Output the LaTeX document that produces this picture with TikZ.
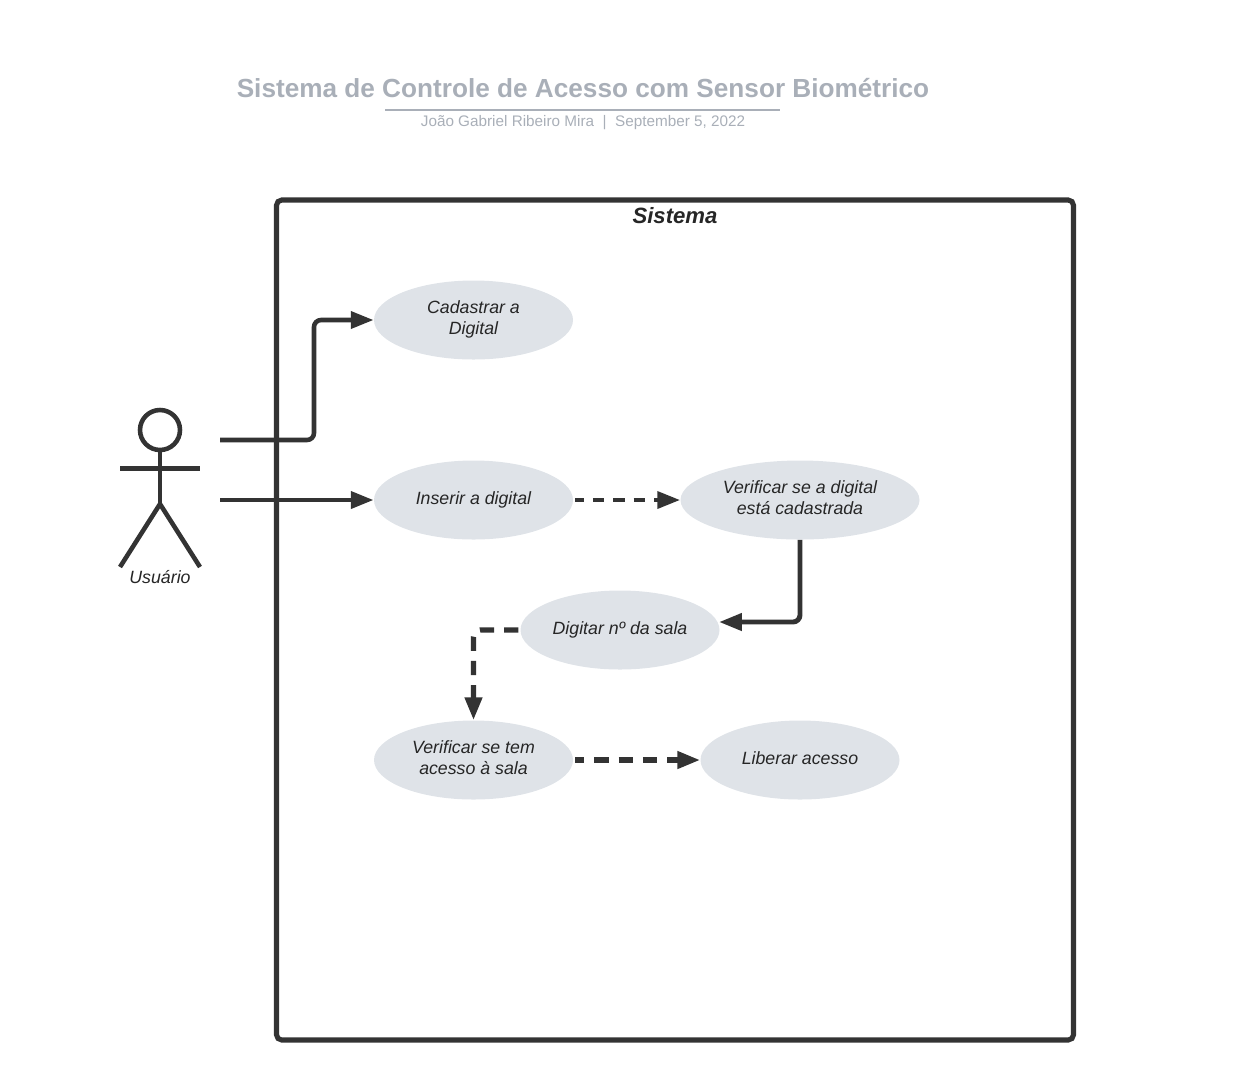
\documentclass[tikz,border=0pt]{standalone}
\usepackage{fontspec}
\setmainfont{Liberation Sans}
\usetikzlibrary{positioning,shapes.geometric,arrows.meta}
\definecolor{linecol}{HTML}{333333}
\definecolor{usecol}{HTML}{DFE3E8}
\definecolor{titlecol}{HTML}{A9AFB8}
\tikzset{
  usecase/.style={ellipse,fill=usecol,inner sep=0pt,minimum height=79*0.02cm,text height=7.6pt,text depth=3pt,align=center,font=\fontsize{10.1}{12}\selectfont\itshape,text=black!85},
  usecasetwo/.style={usecase,text height=19.6pt},
  flow/.style={draw=linecol,line width=2.6pt,rounded corners=4pt,-{Triangle[length=13pt,width=9.5pt]}},
  flowdash/.style={flow,line width=2.5pt,dash pattern=on 6.6pt off 5pt,dash phase=1.5pt,shorten <=1pt},
  flowdashb/.style={flow,line width=3pt,dash pattern=on 8.1pt off 5.7pt,shorten <=1pt},
  limb/.style={draw=linecol,line width=2.6pt}
}
\begin{document}
\begin{tikzpicture}[x=0.02cm,y=-0.02cm]
\useasboundingbox (0,0) rectangle (1260,1080);
\node[inner sep=0pt,text=titlecol,font=\fontsize{14.9}{18}\selectfont\bfseries] (title) at (583,88.5) {Sistema de Controle de Acesso com Sensor Biométrico};
\coordinate (ruleL) at (385,110);
\coordinate (ruleR) at (780,110);
\draw[titlecol,line width=1.1pt] (ruleL)--(ruleR);
\node[inner sep=0pt,text=titlecol,font=\fontsize{8.7}{11}\selectfont] (subtitle) at (583,123) {João Gabriel Ribeiro Mira \ | \ September 5, 2022};

\node[draw=linecol,line width=2.9pt,rounded corners=3pt,minimum width=797*0.02cm,minimum height=840*0.02cm,inner sep=0pt] (system) at (675,620) {};
\node[inner sep=0pt,text=black!85,font=\fontsize{12.6}{14}\selectfont\bfseries\itshape] (systemlabel) at (675,216) {Sistema};

% actor
\node[circle,draw=linecol,line width=2.6pt,fill=white,minimum size=40*0.02cm,inner sep=0pt] (head) at (160,430) {};
\coordinate (hip) at (160,504);
\coordinate (armL) at (120,468.5);
\coordinate (armR) at (200,468.5);
\coordinate (footL) at (120,567);
\coordinate (footR) at (200,567);
\draw[limb] (head)--(hip);
\draw[limb] (armL)--(armR);
\draw[limb] (footL)--(hip)--(footR);
\node[inner sep=0pt,text=black!85,font=\fontsize{10.1}{12}\selectfont\itshape] (actor) at (160,577) {Usuário};

% use cases
\node[usecasetwo,minimum width=199*0.02cm] (cadastrar) at (473.5,320) {Cadastrar a\\Digital};
\node[usecase,minimum width=199*0.02cm] (inserir) at (473.5,500) {Inserir a digital};
\node[usecasetwo,minimum width=239*0.02cm] (verificar) at (800,500) {Verificar se a digital\\está cadastrada};
\node[usecase,minimum width=199*0.02cm] (digitar) at (620,630) {Digitar nº da sala};
\node[usecasetwo,minimum width=199*0.02cm] (sala) at (473.5,760) {Verificar se tem\\acesso à sala};
\node[usecase,minimum width=199*0.02cm] (liberar) at (800,760) {Liberar acesso};

% connectors
\coordinate (startA) at (220,440);
\coordinate (startB) at (220,500);
\coordinate (bendA) at (314,440);
\coordinate (bendB) at (314,320);
\coordinate (bendC) at (800,622);
\coordinate (bendD) at (473.5,630);
\coordinate (endC) at (719,622);
\draw[flow] (startA)--(bendA)--(bendB)--(cadastrar.west);
\draw[flow,line width=2.7pt] (startB)--(inserir.west);
\draw[flowdash] (inserir.east)--(verificar.west);
\draw[flow,line width=2.8pt] (verificar.south)--(bendC)--(endC);
\draw[flowdashb] (digitar.west)--(bendD)--(sala.north);
\draw[flowdashb,dash phase=2.9pt] (sala.east)--(liberar.west);
\end{tikzpicture}
\end{document}
